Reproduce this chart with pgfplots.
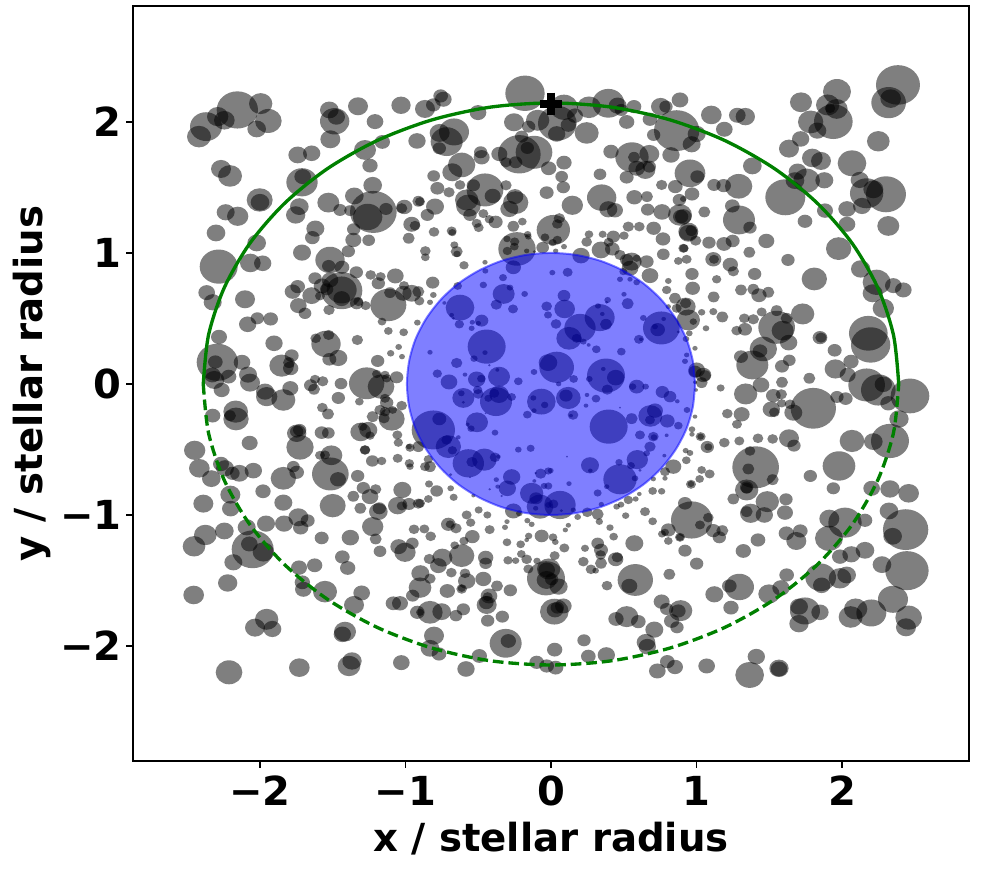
\documentclass[border=0pt]{standalone}
\usepackage{pgfplots}
\usepackage{pgfplotstable}
\usepackage{fontspec}
\setmainfont{DejaVu Sans}
\pgfplotsset{compat=1.18}
\definecolor{grn}{RGB}{0,128,0}
\pgfdeclareplotmark{fillball}{\pgfpathcircle{\pgfpointorigin}{\pgfplotmarksize}\pgfusepathqfill}
% spot tables: a,b = position read in each crop, c = horizontal radius
\pgfplotstableread[row sep=\\]{a b c\\
202 150 62\\ 272 131 35\\ 295 183 40\\ 260 207 28\\ 143 170 32\\ 163 181 31\\ 108 200 48\\ 87 230 36\\ 153 327 30\\ 180 348 36\\
478 150 28\\ 494 184 44\\ 499 171 26\\ 481 238 30\\ 564 139 30\\ 615 185 25\\ 693 136 29\\ 741 243 26\\ 637 246 23\\ 585 270 33\\
383 285 28\\ 425 280 26\\ 600 317 23\\ 396 367 47\\ 398 350 25\\ 269 420 39\\ 270 427 28\\ 608 376 28\\ 475 428 33\\ 388 440 28\\
377 465 29\\ 553 408 28\\ 610 456 70\\ 593 471 44\\ 648 447 20\\ 510 450 20\\ 540 452 18\\ 703 441 24\\ 695 445 17\\ 745 424 18\\
167 457 27\\ 203 469 32\\ 138 519 28\\ 436 506 27\\ 427 533 22\\ 551 508 20\\ 550 540 24\\ 596 541 19\\ 716 535 18\\ 725 493 25\\
735 497 16\\ 260 549 28\\ 396 578 27\\ 535 574 20\\ 480 600 44\\ 476 618 20\\ 516 622 22\\ 146 620 57\\ 241 609 31\\ 278 610 26\\
559 637 20\\ 602 645 16\\ 632 650 15\\ 676 648 25\\
}\cropA
\pgfplotstableread[row sep=\\]{a b c\\
315 100 59\\ 432 142 42\\ 507 142 36\\ 565 130 48\\ 593 137 27\\ 604 150 20\\ 642 140 22\\ 780 120 25\\ 722 140 29\\ 738 140 20\\
620 186 23\\ 690 178 22\\ 353 181 35\\ 282 187 30\\ 326 200 20\\ 412 190 58\\ 445 195 23\\ 465 167 24\\ 410 222 26\\ 500 219 36\\
62 108 22\\ 70 118 25\\ 40 135 22\\ 15 147 30\\ 174 158 25\\ 59 219 30\\ 102 216 45\\ 80 245 48\\ 58 265 20\\ 182 277 20\\
185 292 24\\ 238 282 24\\ 298 283 64\\ 342 277 55\\ 322 264 20\\ 305 230 20\\ 258 307 17\\ 287 307 20\\ 125 315 41\\ 97 337 30\\
41 348 19\\ 386 325 23\\ 432 308 23\\ 425 350 19\\ 430 382 20\\ 573 275 23\\ 636 292 50\\ 642 292 18\\ 688 282 30\\ 620 352 21\\
676 330 30\\ 650 325 25\\ 688 320 20\\ 540 343 19\\ 725 375 17\\ 753 285 26\\ 770 212 68\\ 701 225 20\\ 52 385 21\\ 87 397 17\\
120 375 16\\ 160 376 20\\ 195 390 55\\ 218 408 24\\ 258 376 17\\ 140 420 35\\ 145 437 37\\ 150 465 20\\ 285 410 25\\ 287 428 38\\
268 447 27\\ 380 398 21\\ 457 436 32\\ 545 413 44\\ 565 448 27\\ 585 451 24\\ 643 412 24\\ 681 410 18\\ 683 449 20\\ 726 456 26\\
766 380 22\\ 778 420 20\\ 780 465 36\\ 782 470 23\\ 45 440 27\\ 0 425 15\\ 22 465 20\\ 190 461 15\\ 208 478 14\\ 227 486 21\\
170 490 15\\ 176 503 15\\ 280 499 18\\ 307 485 13\\ 418 475 17\\ 412 492 16\\ 400 510 50\\ 375 532 13\\ 412 540 14\\ 398 548 12\\
432 560 9\\ 407 573 8\\ 42 516 16\\ 95 513 15\\ 97 518 12\\ 507 523 13\\ 548 523 12\\ 580 530 20\\ 612 527 14\\ 625 500 17\\
658 500 16\\ 701 505 22\\ 729 537 22\\ 805 520 28\\ 730 583 19\\ 790 565 15\\ 775 603 13\\ 500 546 16\\ 543 570 28\\ 566 547 15\\
577 567 22\\ 600 585 17\\ 103 555 12\\ 110 575 18\\ 111 582 11\\ 16 573 16\\ 16 592 13\\ 291 567 56\\ 261 537 11\\ 284 545 14\\
283 560 13\\ 262 573 14\\ 323 523 11\\ 325 530 10\\ 320 573 8\\ 343 575 5\\ 368 563 19\\ 483 587 26\\ 195 607 8\\ 132 616 14\\
280 622 23\\ 635 605 30\\ 650 595 12\\ 620 600 20\\ 680 605 21\\ 630 625 25\\
}\cropB
\pgfplotstableread[row sep=\\]{a b c\\
94 165 31\\ 172 166 25\\ 196 170 29\\ 133 208 25\\ 30 340 46\\ 52 350 21\\ 102 375 20\\ 131 377 22\\ 176 379 41\\ 36 402 22\\
10 417 10\\ 73 456 18\\ 157 438 22\\ 177 480 48\\ 210 503 20\\ 10 470 25\\ 34 512 18\\ 25 515 30\\ 47 542 17\\ 87 548 20\\
132 552 23\\ 158 543 21\\ 259 543 24\\ 208 577 18\\ 12 565 14\\ 20 598 15\\ 100 598 24\\ 102 598 15\\ 151 614 23\\ 324 600 20\\
217 318 28\\ 50 222 27\\ 35 253 27\\ 363 127 33\\ 471 95 42\\ 443 135 35\\ 470 147 33\\ 450 145 16\\ 460 185 58\\ 392 186 38\\
412 212 27\\ 362 237 26\\ 327 266 30\\ 397 294 31\\ 423 303 30\\ 516 310 43\\ 353 335 27\\ 345 362 28\\ 380 362 40\\ 433 361 27\\
316 412 60\\ 435 452 24\\ 375 484 22\\ 501 447 26\\ 501 493 25\\ 476 566 38\\ 595 244 34\\ 654 75 66\\ 626 128 52\\ 632 116 31\\
539 360 27\\ 560 400 50\\ 580 388 30\\ 618 403 60\\ 546 438 27\\ 625 498 33\\ 542 627 29\\
}\cropC
\pgfplotstableread[row sep=\\]{a b c\\
110 68 25\\ 128 97 27\\ 225 88 30\\ 147 201 24\\ 383 50 22\\ 368 65 24\\ 435 25 20\\ 425 77 28\\ 456 48 25\\ 480 30 25\\
515 62 62\\ 515 60 45\\ 515 86 25\\ 470 58 20\\ 450 78 15\\ 560 100 20\\ 565 95 15\\ 587 107 15\\ 385 107 25\\ 405 130 19\\
477 120 17\\ 655 105 54\\ 660 68 18\\ 625 40 20\\ 700 70 25\\ 702 47 15\\ 725 70 28\\ 745 65 18\\ 748 93 15\\ 636 155 13\\
655 183 13\\ 701 187 13\\ 742 158 10\\ 262 145 20\\ 233 163 26\\ 302 147 22\\ 312 220 26\\ 335 287 37\\ 365 257 21\\ 357 278 18\\
362 295 23\\ 437 205 16\\ 468 222 44\\ 476 195 17\\ 478 268 21\\ 505 264 27\\ 562 210 17\\ 623 273 20\\ 662 250 11\\ 686 231 10\\
696 260 9\\ 142 277 62\\ 136 276 22\\ 216 277 25\\ 127 315 25\\ 176 320 23\\ 155 360 24\\ 133 330 30\\ 234 314 27\\ 240 338 30\\
290 380 32\\ 285 365 27\\ 340 390 36\\ 361 355 24\\ 435 328 15\\ 458 334 17\\ 422 346 20\\ 432 358 18\\ 513 341 19\\ 590 340 53\\
633 350 40\\ 620 312 14\\ 645 315 14\\ 650 325 14\\ 680 322 20\\ 505 384 20\\ 568 395 13\\ 457 413 16\\ 474 432 18\\ 645 385 15\\
650 398 20\\ 630 420 17\\ 645 425 16\\ 668 420 13\\ 642 445 17\\ 665 447 39\\ 695 407 16\\ 608 440 18\\ 128 437 23\\ 180 437 18\\
197 425 37\\ 198 447 38\\ 380 490 29\\ 380 485 20\\ 389 480 20\\ 455 488 21\\ 475 489 19\\ 572 486 31\\ 578 470 14\\ 595 480 27\\
600 497 14\\ 585 540 16\\ 585 540 15\\ 682 495 15\\ 685 518 14\\ 720 533 14\\ 717 530 9\\ 745 530 18\\ 239 519 24\\ 74 541 32\\
390 532 41\\ 450 556 15\\ 484 556 33\\ 465 555 15\\ 88 595 31\\ 153 582 24\\ 165 595 27\\ 187 610 22\\ 124 626 28\\ 208 610 28\\
250 602 26\\ 370 590 19\\ 380 607 22\\ 340 625 38\\ 481 612 55\\ 504 628 24\\ 563 618 20\\ 607 573 19\\ 635 573 14\\ 683 565 15\\
718 580 14\\ 720 590 11\\
}\cropD
\pgfplotstableread[row sep=\\]{a b c\\
38 38 20\\ 30 97 9\\ 40 75 10\\ 113 48 13\\ 196 3 9\\ 249 23 12\\ 397 8 9\\ 443 7 15\\ 190 45 11\\ 251 72 33\\
270 53 10\\ 229 104 17\\ 279 117 15\\ 314 72 10\\ 120 113 43\\ 73 99 6\\ 95 135 7\\ 100 145 5\\ 118 163 14\\ 155 175 9\\
157 157 8\\ 175 160 8\\ 185 152 20\\ 432 77 19\\ 380 109 16\\ 434 117 31\\ 384 135 12\\ 408 162 16\\ 480 174 47\\ 539 143 45\\
534 108 9\\ 547 132 7\\ 558 163 18\\ 563 90 10\\ 560 97 5\\ 447 205 38\\ 470 205 15\\ 490 215 10\\ 506 225 6\\ 612 73 8\\
623 101 18\\ 670 144 10\\ 724 174 55\\ 713 179 22\\ 705 170 9\\ 731 147 7\\ 775 186 5\\ 657 208 15\\ 663 208 6\\ 200 230 57\\
195 248 8\\ 162 266 11\\ 208 286 4\\ 30 247 8\\ 110 279 17\\ 529 238 13\\ 604 245 13\\ 798 207 10\\ 800 255 8\\ 795 274 9\\
410 292 52\\ 384 278 28\\ 342 306 10\\ 461 327 13\\ 558 317 57\\ 587 323 26\\ 550 297 7\\ 562 359 17\\ 508 327 10\\ 650 350 23\\
638 350 11\\ 677 350 10\\ 727 366 20\\ 750 380 19\\ 772 394 7\\ 801 420 10\\ 52 311 14\\ 87 336 25\\ 135 314 7\\ 170 328 26\\
184 326 13\\ 237 320 33\\ 232 300 6\\ 295 334 13\\ 416 342 8\\ 173 360 14\\ 175 372 16\\ 130 384 33\\ 124 370 10\\ 130 397 5\\
228 395 48\\ 237 373 29\\ 223 370 15\\ 205 385 12\\ 275 381 13\\ 364 395 43\\ 340 384 9\\ 374 405 11\\ 342 422 8\\ 445 384 37\\
438 377 20\\ 501 375 7\\ 528 386 13\\ 498 407 7\\ 600 413 3\\ 322 434 13\\ 459 435 16\\ 453 437 6\\ 197 430 3\\ 171 457 33\\
143 463 6\\ 153 476 11\\ 225 488 10\\ 40 480 65\\ 58 447 21\\ 566 470 57\\ 635 446 18\\ 691 438 36\\ 705 422 24\\ 690 450 15\\
742 453 22\\ 775 467 13\\ 660 495 15\\ 700 500 16\\ 702 502 10\\ 740 496 6\\ 690 530 17\\ 85 530 38\\ 80 510 16\\ 97 541 14\\
115 502 7\\ 145 580 47\\ 193 569 37\\ 156 576 17\\ 225 562 16\\ 235 560 7\\ 295 539 10\\ 332 535 12\\ 441 560 3\\ 652 569 32\\
633 587 12\\ 680 550 10\\ 733 557 6\\ 597 577 11\\ 510 586 27\\ 511 602 7\\ 660 601 5\\ 92 614 5\\ 150 622 3\\ 275 621 26\\
362 611 17\\ 392 602 9\\ 385 603 12\\ 347 609 4\\ 229 629 8\\ 600 628 50\\ 645 625 10\\ 690 17 25\\ 745 33 10\\ 740 60 14\\
765 85 18\\ 770 115 15\\ 745 110 8\\ 650 37 10\\ 630 28 8\\ 600 28 9\\ 610 5 12\\ 30 590 18\\ 15 590 15\\ 25 568 14\\
760 590 24\\ 735 605 15\\ 700 627 8\\ 735 625 8\\
}\cropE
\pgfplotstableread[row sep=\\]{a b c\\
36 12 20\\ 110 28 14\\ 160 4 17\\ 224 12 20\\ 403 27 38\\ 38 55 22\\ 101 81 18\\ 183 60 18\\ 220 58 18\\ 237 76 23\\
265 67 18\\ 17 110 30\\ 17 100 17\\ 65 127 11\\ 100 125 12\\ 127 141 18\\ 40 155 11\\ 25 150 35\\ 78 175 10\\ 245 126 15\\
290 122 18\\ 193 145 16\\ 220 148 17\\ 290 172 55\\ 320 145 18\\ 308 182 33\\ 368 132 35\\ 326 218 26\\ 170 182 16\\ 195 178 21\\
420 203 22\\ 423 203 17\\ 250 237 41\\ 240 243 22\\ 183 260 21\\ 217 285 48\\ 328 271 19\\ 306 289 21\\ 464 241 21\\ 513 275 23\\
466 297 32\\ 503 315 24\\ 388 325 18\\ 306 337 18\\ 243 345 25\\ 197 372 35\\ 565 190 58\\ 572 225 59\\ 590 37 42\\ 640 47 25\\
670 60 25\\ 578 70 30\\ 610 115 32\\ 560 345 55\\ 595 360 52\\ 610 343 26\\ 690 378 58\\ 625 400 24\\ 471 381 20\\ 497 386 21\\
400 415 68\\ 340 428 27\\ 330 403 16\\ 304 373 17\\ 280 377 22\\ 305 400 14\\ 274 418 26\\ 283 427 16\\ 142 431 16\\ 185 433 24\\
171 463 15\\ 657 447 29\\ 630 513 57\\ 580 515 28\\ 516 513 37\\ 327 505 30\\ 342 527 20\\ 234 505 16\\ 278 507 16\\ 178 513 15\\
133 518 16\\ 45 440 7\\ 36 478 10\\ 36 493 8\\ 62 500 15\\ 62 500 10\\ 82 531 20\\ 85 531 12\\ 17 542 9\\ 30 549 10\\
19 571 13\\ 227 592 70\\ 210 543 16\\ 205 597 18\\ 278 629 18\\ 477 588 49\\ 391 618 20\\ 65 600 13\\ 89 612 15\\ 59 627 13\\
50 300 25\\ 70 315 24\\ 75 317 18\\ 65 338 18\\ 45 305 20\\ 122 354 12\\ 48 360 6\\ 45 337 6\\ 28 190 10\\ 45 235 8\\
}\cropF
\pgfplotstableread[row sep=\\]{a b c\\
279 34 23\\ 181 44 30\\ 100 71 30\\ 182 86 26\\ 340 68 27\\ 488 77 39\\ 550 49 18\\ 580 24 20\\ 600 50 25\\ 617 28 17\\
571 85 18\\ 697 30 27\\ 625 95 28\\ 628 85 20\\ 608 140 32\\ 617 177 18\\ 683 77 29\\ 695 78 15\\ 717 72 20\\ 745 71 17\\
732 148 16\\ 630 214 19\\ 686 200 25\\ 705 217 32\\ 727 190 19\\ 106 165 34\\ 163 153 28\\ 72 199 34\\ 230 142 27\\ 238 192 25\\
248 208 63\\ 280 216 32\\ 288 131 27\\ 342 131 27\\ 385 112 30\\ 413 122 21\\ 392 143 23\\ 455 174 21\\ 541 173 26\\ 517 231 22\\
533 264 23\\ 190 247 27\\ 434 256 23\\ 387 263 24\\ 397 307 23\\ 400 328 25\\ 465 335 36\\ 575 339 25\\ 173 309 29\\ 71 345 31\\
552 375 30\\ 670 370 23\\ 690 370 24\\ 728 347 20\\ 750 323 34\\ 751 280 27\\ 742 397 22\\ 290 418 35\\ 255 443 30\\ 307 447 27\\
525 455 33\\ 517 463 26\\ 177 577 40\\ 388 563 31\\ 537 558 34\\ 546 543 29\\ 694 548 25\\
}\cropG
\pgfplotstableread[row sep=\\]{a b c\\
262 25 26\\ 233 20 7\\ 209 28 4\\ 335 40 35\\ 348 55 20\\ 360 80 40\\ 420 75 47\\ 400 72 15\\ 385 75 10\\ 347 85 8\\
424 92 5\\ 372 18 10\\ 385 18 12\\ 447 11 8\\ 343 3 6\\ 533 39 12\\ 560 20 8\\ 544 73 8\\ 460 90 8\\ 280 93 25\\
298 100 10\\ 245 48 4\\ 160 47 6\\ 27 12 12\\ 50 33 19\\ 92 25 10\\ 101 52 12\\ 25 57 13\\ 0 70 15\\ 140 105 15\\
176 90 12\\ 202 105 12\\ 152 128 14\\ 85 133 22\\ 90 133 13\\ 108 145 17\\ 209 149 15\\ 13 147 15\\ 32 169 16\\ 157 170 22\\
132 183 14\\ 104 196 13\\ 125 227 38\\ 67 233 30\\ 28 237 17\\ 55 257 25\\ 197 233 23\\ 197 250 19\\ 261 187 13\\ 255 142 9\\
261 125 8\\ 322 122 9\\ 335 133 9\\ 302 193 13\\ 320 180 7\\ 326 168 11\\ 365 168 21\\ 399 172 13\\ 406 186 10\\ 433 204 15\\
445 136 8\\ 436 150 8\\ 473 111 10\\ 502 97 16\\ 533 103 18\\ 538 125 11\\ 570 143 11\\ 581 170 13\\ 617 107 11\\ 590 80 10\\
603 74 10\\ 625 60 14\\ 647 57 9\\ 658 42 7\\ 675 95 15\\ 698 124 13\\ 698 33 13\\ 725 34 11\\ 745 150 22\\ 735 157 12\\
726 162 12\\ 745 183 13\\ 780 172 15\\ 495 205 12\\ 533 190 19\\ 543 210 21\\ 542 225 16\\ 543 250 18\\ 490 245 16\\ 513 268 16\\
527 272 10\\ 587 238 23\\ 592 232 17\\ 643 190 27\\ 304 222 13\\ 320 238 16\\ 287 242 11\\ 264 241 14\\ 351 243 11\\ 404 227 15\\
386 267 35\\ 380 270 25\\ 378 295 57\\ 380 300 30\\ 395 298 20\\ 325 267 15\\ 416 320 27\\ 94 278 16\\ 135 280 16\\ 140 303 26\\
125 327 16\\ 125 325 12\\ 82 333 23\\ 30 296 17\\ 190 297 24\\ 231 318 18\\ 271 331 20\\ 207 348 25\\ 203 350 15\\ 200 375 30\\
199 368 22\\ 108 407 19\\ 130 388 20\\ 65 395 28\\ 30 397 38\\ 0 397 12\\ 247 410 20\\ 203 422 20\\ 403 395 43\\ 405 390 25\\
412 383 20\\ 430 378 25\\ 561 317 16\\ 646 300 53\\ 628 318 24\\ 748 283 18\\ 725 365 24\\ 740 387 20\\ 775 393 22\\ 782 392 35\\
755 423 23\\ 771 442 20\\ 620 410 35\\ 588 417 23\\ 655 425 22\\ 703 449 27\\ 678 487 28\\ 682 500 26\\ 492 481 20\\ 404 509 23\\
505 529 22\\ 559 525 26\\ 350 547 22\\ 380 558 22\\ 407 563 23\\ 178 528 23\\ 42 467 30\\ 30 505 28\\ 57 522 22\\ 138 567 26\\
257 490 48\\ 265 483 23\\ 742 545 22\\ 765 561 24\\ 712 573 25\\
}\cropH
\pgfplotstableread[row sep=\\]{a b c\\
35 120 62\\ 15 70 21\\ 60 135 15\\ 85 113 16\\ 100 152 22\\ 118 172 20\\ 127 152 18\\ 0 172 12\\ 15 212 20\\ 50 251 20\\
160 57 18\\ 200 30 35\\ 200 22 20\\ 200 25 18\\ 212 100 32\\ 200 95 18\\ 262 65 35\\ 253 105 26\\ 318 58 20\\ 315 98 24\\
190 213 23\\ 234 180 22\\ 319 160 23\\ 349 183 30\\ 361 153 22\\ 460 25 20\\ 575 25 25\\ 630 27 29\\ 686 40 31\\ 627 93 28\\
555 121 22\\ 448 116 30\\ 495 128 50\\ 447 175 42\\ 677 149 68\\ 638 169 28\\ 555 211 28\\ 514 223 27\\ 480 230 24\\ 606 254 28\\
681 272 65\\ 422 292 46\\ 425 316 26\\ 480 295 34\\ 500 285 28\\ 320 285 22\\ 303 324 26\\ 267 342 32\\ 178 321 44\\ 148 318 22\\
103 343 27\\ 153 383 23\\ 639 358 45\\ 574 399 45\\ 527 387 35\\ 512 411 36\\ 357 380 27\\ 375 393 45\\ 420 397 26\\ 357 431 29\\
686 413 40\\ 678 442 30\\ 80 558 25\\ 209 585 43\\ 229 530 26\\ 297 565 29\\ 297 567 25\\ 33 13 15\\ 33 12 10\\
}\cropI
\newcommand{\spots}[3]{%
\addplot[scatter, only marks, mark=fillball,
  scatter/use mapped color={draw=black,fill=black},
  mark options={yscale=0.9,fill opacity=0.5},
  visualization depends on={\thisrow{c}/4 \as \perpointmarksize},
  scatter/@pre marker code/.append style={/tikz/mark size=\perpointmarksize},
  point meta=0]
  table[x expr={(#2+\thisrow{a}/3-551)/145.5}, y expr={(384-#3-\thisrow{b}/3)/131}] {#1};}
\begin{document}
\begin{tikzpicture}
\useasboundingbox (-99.75pt,-83.25pt) rectangle (639.75pt,570.75pt);
\begin{axis}[
  at={(0pt,0pt)}, anchor=south west,
  width=627pt, height=566.25pt, scale only axis,
  xmin=-2.873, xmax=2.873, ymin=-2.878, ymax=2.885,
  xtick={-2,-1,0,1,2}, ytick={-2,-1,0,1,2},
  xticklabels={−2,−1,0,1,2}, yticklabels={−2,−1,0,1,2},
  tick align=outside, tick pos=left,
  major tick length=5.2pt,
  every tick/.style={black,line width=1pt},
  axis line style={line width=1.1pt},
  tick label style={font=\fontsize{30}{30}\selectfont\bfseries},
  xticklabel style={yshift=-2.5pt},
  xlabel={x / stellar radius}, ylabel={y / stellar radius},
  label style={font=\fontsize{29}{29}\selectfont\bfseries},
  xlabel style={yshift=-5pt},
  clip=true, clip mode=individual,
]
\spots{\cropA}{170}{60}
\spots{\cropB}{420}{60}
\spots{\cropC}{680}{60}
\spots{\cropD}{170}{270}
\spots{\cropE}{420}{270}
\spots{\cropF}{680}{270}
\spots{\cropG}{170}{480}
\spots{\cropH}{420}{480}
\spots{\cropI}{680}{480}
\addplot[smooth, draw=blue, fill=blue, fill opacity=0.5, draw opacity=0.5, line width=1.5pt] coordinates {
(.99,0) (.975,.174) (.931,.342) (.857,.5) (.758,.643) (.637,.766) (.495,.866) (.339,.940) (.172,.985) (0,1)
(-.172,.985) (-.339,.940) (-.495,.866) (-.637,.766) (-.758,.643) (-.857,.5) (-.931,.342) (-.975,.174) (-.99,0)
(-.975,-.174) (-.931,-.342) (-.857,-.5) (-.758,-.643) (-.637,-.766) (-.495,-.866) (-.339,-.940) (-.172,-.985) (0,-1)
(.172,-.985) (.339,-.940) (.495,-.866) (.637,-.766) (.758,-.643) (.857,-.5) (.931,-.342) (.975,-.174) (.99,0)} -- cycle;
\addplot[smooth, grn, line width=2.5pt] coordinates {
(2.39,0) (2.354,.373) (2.246,.734) (2.070,1.073) (1.831,1.379) (1.537,1.643) (1.195,1.858) (.817,2.016) (.416,2.113) (0,2.145)
(-.416,2.113) (-.817,2.016) (-1.195,1.858) (-1.537,1.643) (-1.831,1.379) (-2.070,1.073) (-2.246,.734) (-2.354,.373) (-2.39,0)};
\addplot[smooth, grn, line width=2.5pt, dash pattern=on 8pt off 3.7pt] coordinates {
(-2.39,0) (-2.354,-.373) (-2.246,-.734) (-2.070,-1.073) (-1.831,-1.379) (-1.537,-1.643) (-1.195,-1.858) (-.817,-2.016) (-.416,-2.113) (0,-2.145)
(.416,-2.113) (.817,-2.016) (1.195,-1.858) (1.537,-1.643) (1.831,-1.379) (2.070,-1.073) (2.246,-.734) (2.354,-.373) (2.39,0)};
\addplot[only marks, mark=+, mark size=8.25pt, black, mark options={line width=6pt}] coordinates {(0,2.14)};
\end{axis}
\end{tikzpicture}
\end{document}
